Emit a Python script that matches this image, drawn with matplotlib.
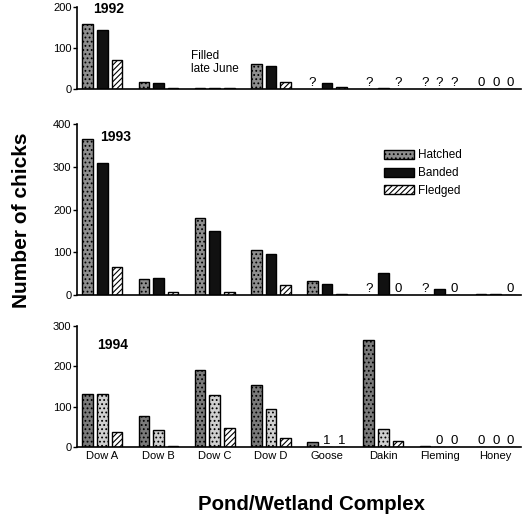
import numpy as np
import matplotlib
matplotlib.use("Agg")
import matplotlib.pyplot as plt
from matplotlib.patches import Patch

plt.rcParams['font.family'] = ['Liberation Sans', 'DejaVu Sans']
plt.rcParams['hatch.linewidth'] = 0.8

nan = np.nan
sites = ['Dow A', 'Dow B', 'Dow C', 'Dow D', 'Goose', 'Dakin', 'Fleming', 'Honey']

# 1992
h92 = [158, 16, 2, 60, nan, nan, nan, 0]
b92 = [145, 15, 2, 55, 15, 3, nan, 0]
f92 = [70, 2, 2, 17, 5, nan, nan, 0]
n92_h = ['', '', '', '', '?', '?', '?', '0']
n92_b = ['', '', '', '', '', '', '?', '0']
n92_f = ['', '', '', '', '', '?', '?', '0']

# 1993
h93 = [365, 37, 180, 105, 32, nan, nan, 2]
b93 = [308, 40, 150, 95, 26, 52, 14, 2]
f93 = [65, 7, 8, 24, 2, 0, 0, 0]
n93_h = ['', '', '', '', '', '?', '?', '']
n93_b = ['', '', '', '', '', '', '', '']
n93_f = ['', '', '', '', '', '0', '0', '0']

# 1994
h94 = [132, 78, 190, 153, 12, 265, 2, 0]
b94 = [132, 42, 128, 93, 0, 45, 0, 0]
f94 = [36, 3, 47, 22, 0, 15, 0, 0]
n94_h = ['', '', '', '', '', '', '', '0']
n94_b = ['', '', '', '', '1', '', '0', '0']
n94_f = ['', '', '', '', '1', '', '0', '0']

years = ['1992', '1993', '1994']
ymax = [200, 400, 300]
yticks = [[0, 100, 200], [0, 100, 200, 300, 400], [0, 100, 200, 300]]

W, H = 523, 522
fig = plt.figure(figsize=(W / 100, H / 100), dpi=100)

left = 77 / W
right = 521 / W
panels = [(7, 89), (124, 295), (326, 447)]

series = [
    [(h92, n92_h), (b92, n92_b), (f92, n92_f)],
    [(h93, n93_h), (b93, n93_b), (f93, n93_f)],
    [(h94, n94_h), (b94, n94_b), (f94, n94_f)],
]

styles_std = [
    dict(facecolor='#8e8e8e', hatch='....', edgecolor='black'),
    dict(facecolor='#111111', hatch='', edgecolor='black'),
    dict(facecolor='white', hatch='//////', edgecolor='black'),
]
styles_94 = [
    dict(facecolor='#7a7a7a', hatch='....', edgecolor='black'),
    dict(facecolor='#d0d0d0', hatch='....', edgecolor='black'),
    dict(facecolor='white', hatch='//////', edgecolor='black'),
]

x = np.arange(len(sites))
offs = [-0.26, 0.0, 0.26]
bw = 0.19

axes = []
for i, (top, bot) in enumerate(panels):
    ax = fig.add_axes([left, 1 - bot / H, right - left, (bot - top) / H])
    axes.append(ax)
    st = styles_94 if i == 2 else styles_std
    for k, (vals, notes) in enumerate(series[i]):
        ax.bar(x + offs[k], vals, width=bw, linewidth=1.0, **st[k])
        for j, t in enumerate(notes):
            if t:
                ax.text(x[j] + offs[k], 0, t, ha='center', va='bottom',
                        fontsize=9.5)
    ax.set_xlim(-0.45, 7.45)
    ax.set_ylim(0, ymax[i])
    ax.set_yticks(yticks[i])
    ax.tick_params(axis='y', labelsize=8, length=3, width=1, pad=1)
    ax.spines['top'].set_visible(False)
    ax.spines['right'].set_visible(False)
    ax.spines['left'].set_linewidth(1.2)
    ax.spines['bottom'].set_linewidth(1.2)
    ax.set_xticks(x)
    if i < 2:
        ax.tick_params(axis='x', length=0, labelbottom=False)
    else:
        ax.set_xticklabels(sites, fontsize=8)
        ax.tick_params(axis='x', length=0, pad=3)

axes[0].text(-0.16, 195, '1992', fontsize=10, fontweight='bold', va='center')
axes[1].text(-0.04, 370, '1993', fontsize=10, fontweight='bold', va='center')
axes[2].text(-0.09, 253, '1994', fontsize=10, fontweight='bold', va='center')
axes[0].text(1.57, 64, 'Filled\nlate June', fontsize=8.5, va='center', ha='left',
             linespacing=1.1)

handles = [Patch(**styles_std[0], label='Hatched'),
           Patch(**styles_std[1], label='Banded'),
           Patch(**styles_std[2], label='Fledged')]
axes[1].legend(handles=handles, loc='upper left', bbox_to_anchor=(0.68, 0.88),
               frameon=False, fontsize=8.5, handlelength=2.6, handleheight=0.8,
               handletextpad=0.3, labelspacing=0.5, borderaxespad=0)

fig.text(22 / W, 1 - 220 / H, 'Number of chicks', rotation=90, fontsize=15,
         fontweight='bold', ha='center', va='center')
fig.text(311 / W, 1 - 505 / H, 'Pond/Wetland Complex', fontsize=14.7,
         fontweight='bold', ha='center', va='center')

fig.savefig('out.png', dpi=100)
